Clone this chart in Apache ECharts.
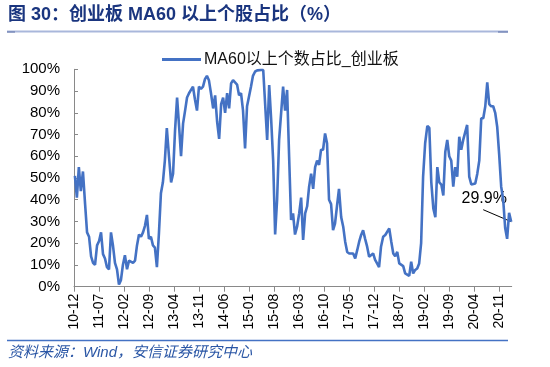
<!DOCTYPE html>
<html><head><meta charset="utf-8">
<script src="https://cdn.jsdelivr.net/npm/echarts@6/dist/echarts.min.js"></script>
<style>html,body{margin:0;padding:0;background:#fff}#c{width:550px;height:367px}</style>
</head><body><div id="c"></div>
<script>
// MA60以上个数占比_创业板 (%), evenly spaced observations
const values = [
51,41,55,44,53,38,25,23,14,11,
10,19,21,25,15,13,9,8,25,19,
11,8,1,3,10,14.5,8,12,12,11,
12,19,24,23,25,28,33,22,23,19,
18,9,24.5,43,48,58,73,60,48,52,
72,87,74,60,75,81,87,89,90.5,92,
86,81,92,91,92,95.5,97,95,89,82,
88,76,68,84,87,80,89,82,93.5,95,
95,93,88,89,81,63.6,83,83,92,97,
99,99.5,99.4,99.7,99.7,100,67.5,92.8,76.7,58,
24,40,67.5,80,92,81,90.5,60,30.7,33.7,
24,27.6,33.7,41,21.5,33.7,37,46,52,45,
55,58,56,63,63,70.5,66,40,38,26,
29,37,45,32,27.6,20.7,16,15.3,16,15.3,
13,16.8,20.7,23.8,26,22,18.4,13.8,14.3,15.3,
12.3,10.7,9,18.4,23,23.8,24,26.8,20.7,15.3,
14,16,10.7,10,9.5,6.1,7,5,11.5,6.1,
7.7,8.4,10.7,20,50.6,66,74,73,48,36,
32,55,48,47,42,62,67.5,60,58,46,
55,50.6,69,63,67.5,67.5,74.4,50.6,47,47.5,
47.5,52,58,77.5,77.5,83,94,84,83,83,
80,73.6,61,46,40,27,22,34,29.9
];
const firstDate = '2010-12-09';
const lastDate = '2021-02-11';
const tickLabels = ['10-12','11-07','12-02','12-09','13-04','13-11','14-06','15-01','15-08','16-03','16-10','17-05','17-12','18-07','19-02','19-09','20-04','20-11'];
const tickStepMonths = 7;
const seriesName = 'MA60以上个数占比_创业板';
const titleText = '图 30：创业板 MA60 以上个股占比（%）';
const sourceText = '资料来源：Wind，安信证券研究中心';

function monthsSinceStart(ts){
  const d = new Date(ts);
  const y = d.getUTCFullYear(), m = d.getUTCMonth();
  const dim = new Date(Date.UTC(y, m + 1, 0)).getUTCDate();
  return (y - 2010) * 12 + (m - 11) + (d.getUTCDate() - 1 + d.getUTCHours() / 24) / dim;
}
const t0 = Date.parse(firstDate + 'T00:00:00Z'), t1 = Date.parse(lastDate + 'T00:00:00Z');
const n = values.length;
const data = values.map((v, i) => [monthsSinceStart(t0 + (t1 - t0) * i / (n - 1)), v]);
const tickValues = tickLabels.map((_, i) => i * tickStepMonths);

const latin = '"Liberation Sans", Arial, "Noto Sans CJK SC", sans-serif';
const chart = echarts.init(document.getElementById('c'), null, {renderer: 'canvas'});
chart.setOption({
  animation: false,
  backgroundColor: '#fff',
  grid: {left: 74, right: 38.3, top: 69.3, bottom: 80.3, containLabel: false},
  legend: {
    left: 162, top: 51.5, padding: 0, itemWidth: 39, itemHeight: 3, icon: 'rect',
    textStyle: {fontSize: 16, color: '#111', fontFamily: latin, padding: [0, 0, 0, -2]},
    data: [seriesName]
  },
  xAxis: {
    type: 'value', min: 0, max: 122.5,
    axisLine: {show: true, lineStyle: {color: '#898989', width: 1}},
    axisTick: {show: true, length: 5, customValues: tickValues, lineStyle: {color: '#898989'}},
    axisLabel: {
      customValues: tickValues, rotate: 90, margin: 7, fontSize: 14, color: '#000', fontFamily: latin,
      formatter: v => tickLabels[Math.round(v / tickStepMonths)] || ''
    },
    splitLine: {show: false}
  },
  yAxis: {
    type: 'value', min: 0, max: 100, interval: 10,
    axisLine: {show: true, lineStyle: {color: '#898989', width: 1}},
    axisTick: {show: true, inside: true, length: 4, lineStyle: {color: '#898989'}},
    axisLabel: {formatter: '{value}%', fontSize: 15, color: '#000', margin: 14, fontFamily: latin},
    splitLine: {show: false}
  },
  series: [{
    name: seriesName, type: 'line', data: data, symbol: 'none', showSymbol: false,
    lineStyle: {color: '#4472C4', width: 2.6}, itemStyle: {color: '#4472C4'}
  }],
  graphic: [
    {id: 'title', type: 'text', left: 8, top: 6, style: {text: titleText, font: 'bold 18px "Liberation Sans", "Noto Sans CJK SC", sans-serif', fill: '#1A357F'}},
    {id: 'rule', type: 'line', shape: {x1: 7, y1: 31.5, x2: 508, y2: 31.5}, style: {stroke: '#A9B7DB', lineWidth: 2}},
    {id: 'capL', type: 'line', shape: {x1: 7, y1: 32, x2: 15, y2: 32}, style: {stroke: '#5B6FA6', lineWidth: 1}},
    {id: 'capR', type: 'line', shape: {x1: 498, y1: 32, x2: 508, y2: 32}, style: {stroke: '#5B6FA6', lineWidth: 1}},
    {id: 'srcRule', type: 'line', shape: {x1: 7, y1: 340.5, x2: 508, y2: 340.5}, style: {stroke: '#4472C4', lineWidth: 1.5}},
    {id: 'src', type: 'text', left: 8, top: 345, style: {text: sourceText, font: 'italic 15px "Liberation Sans", "Noto Sans CJK SC", sans-serif', fill: '#2A56A5'}}
  ]
});

const last = data[data.length - 1];
const p = chart.convertToPixel({seriesIndex: 0}, last);
chart.setOption({
  graphic: [
    {id: 'annLine', type: 'line', shape: {x1: p[0] - 28, y1: p[1] - 12, x2: p[0], y2: p[1]}, style: {stroke: '#000', lineWidth: 1}},
    {id: 'annText', type: 'text', x: p[0] - 27, y: p[1] - 23, style: {text: last[1].toFixed(1) + '%', font: '16px "Liberation Sans", Arial, sans-serif', fill: '#000', align: 'center', verticalAlign: 'middle'}}
  ]
});
</script>
</body></html>
